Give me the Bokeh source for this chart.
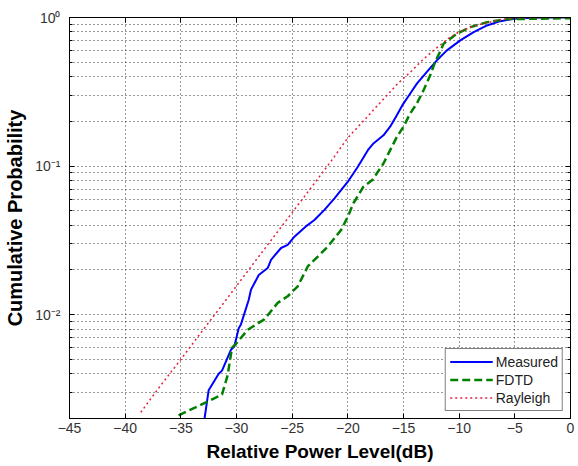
from bokeh.plotting import figure
from bokeh.models import FixedTicker, LinearAxis, LogAxis, Range1d, Legend, LegendItem
from bokeh.embed import file_html
from bokeh.resources import INLINE

# ---- data ----
measured_x = [-32.87, -32.5, -31.6, -31.3, -30.5, -30.2, -29.8, -29.6, -28.9, -28.7,
              -28.0, -27.2, -26.9, -26.0, -25.4, -24.8, -23.8, -23.0, -22.1, -21.2,
              -20.0, -19.1, -18.2, -17.7, -16.8, -16.2, -15.6, -15.1, -14.5, -13.8,
              -12.9, -12.0, -11.1, -9.9, -8.7, -7.5, -6.3, -5.1, -3.6, -2.0, 0.0]
measured_p = [0.002, 0.0031, 0.0040, 0.0042, 0.0058, 0.0061, 0.0081, 0.0086, 0.0126, 0.0147,
              0.0185, 0.0206, 0.0234, 0.0281, 0.0295, 0.0335, 0.0391, 0.0434, 0.0507, 0.0607,
              0.0785, 0.0989, 0.128, 0.142, 0.161, 0.184, 0.220, 0.257, 0.300, 0.359,
              0.430, 0.515, 0.601, 0.701, 0.796, 0.884, 0.945, 0.980, 0.995, 0.999, 1.0]

fdtd_x = [-35.2, -32.6, -31.3, -30.8, -30.4, -30.1, -29.0, -27.5, -26.3, -25.4,
          -24.5, -23.6, -22.7, -21.8, -20.6, -20.0, -19.5, -18.6, -17.8, -16.8,
          -16.2, -15.6, -15.0, -14.4, -13.8, -13.2, -12.6, -12.1, -11.8, -11.4,
          -10.2, -9.0, -7.5, -5.7, -3.6, 0.0]
fdtd_p = [0.0021, 0.0026, 0.0029, 0.0039, 0.0060, 0.0063, 0.0079, 0.0093, 0.0120, 0.0133,
          0.0155, 0.0211, 0.0246, 0.0287, 0.0372, 0.0457, 0.0562, 0.0726, 0.0805, 0.104,
          0.128, 0.157, 0.184, 0.226, 0.264, 0.324, 0.408, 0.515, 0.571, 0.666,
          0.778, 0.861, 0.929, 0.975, 0.980, 0.990]

rayleigh_x = [-38.6, -37.0, -35.0, -33.0, -31.0, -29.0, -27.0, -25.0, -23.0, -21.5,
              -20.0, -18.5, -17.0, -15.5, -14.3, -13.2, -12.3, -11.0, -10.0, -9.0,
              -8.0, -7.0, -6.0, -5.0, -4.0, -2.0, 0.0]
rayleigh_p = [0.0022, 0.0032, 0.0050, 0.0079, 0.0124, 0.0196, 0.0309, 0.0486, 0.0766, 0.108,
              0.155, 0.205, 0.272, 0.360, 0.435, 0.525, 0.600, 0.720, 0.800, 0.860,
              0.905, 0.940, 0.975, 0.990, 0.996, 0.999, 1.0]

x_ticks = [-45, -40, -35, -30, -25, -20, -15, -10, -5, 0]
y_major = [0.01, 0.1, 1.0]
y_major_labels = {0.01: "10\u207b\u00b2", 0.1: "10\u207b\u00b9", 1.0: "10\u2070"}
y_minor = [0.002, 0.003, 0.004, 0.005, 0.006, 0.007, 0.008, 0.009,
           0.02, 0.03, 0.04, 0.05, 0.06, 0.07, 0.08, 0.09,
           0.2, 0.3, 0.4, 0.5, 0.6, 0.7, 0.8, 0.9]

FONT = "Liberation Sans"

p = figure(width=576, height=464, x_range=Range1d(-45, 0), y_range=Range1d(0.002, 1),
           y_axis_type="log", output_backend="svg", toolbar_location=None,
           min_border_left=69, min_border_right=6, min_border_top=17, min_border_bottom=45)
p.background_fill_color = "white"
p.border_fill_color = "white"
p.outline_line_color = "black"
p.outline_line_width = 1

xt = FixedTicker(ticks=x_ticks)
yt = FixedTicker(ticks=y_major, minor_ticks=y_minor)

p.xaxis.ticker = xt
p.yaxis.ticker = yt
p.xgrid.ticker = xt
p.ygrid.ticker = yt

for g in (p.xgrid, p.ygrid):
    g.grid_line_color = "black"
    g.grid_line_dash = "1 3"
    g.grid_line_width = 1
    g.grid_line_alpha = 0.8
p.ygrid.minor_grid_line_color = "black"
p.ygrid.minor_grid_line_dash = "1 3"
p.ygrid.minor_grid_line_alpha = 0.8

p.yaxis.major_label_overrides = y_major_labels

for ax in (p.xaxis, p.yaxis):
    ax.axis_line_color = "black"
    ax.major_tick_in = 5
    ax.major_tick_out = 0
    ax.minor_tick_in = 3
    ax.minor_tick_out = 0
    ax.major_tick_line_color = "black"
    ax.major_label_text_font = FONT
    ax.major_label_text_font_size = "14px"
    ax.major_label_text_color = "#333333"
    ax.axis_label_text_font = FONT
    ax.axis_label_text_font_size = "19px"
    ax.axis_label_text_font_style = "bold"
    ax.axis_label_text_color = "black"
p.yaxis.axis_label_text_font_size = "20px"
p.xaxis.minor_tick_line_color = None
p.xaxis.major_label_standoff = 4
p.yaxis.major_label_standoff = 9
p.xaxis.axis_label = "Relative Power Level(dB)"
p.yaxis.axis_label = "Cumulative Probability"
p.xaxis.axis_label_standoff = 5
p.yaxis.axis_label_standoff = 6

top = LinearAxis(ticker=xt, major_label_text_font_size="1px", major_label_text_alpha=0,
                 major_label_standoff=0,
                 major_tick_in=5, major_tick_out=0, minor_tick_line_color=None,
                 axis_line_color="black")
right = LogAxis(ticker=yt, major_label_text_font_size="1px", major_label_text_alpha=0,
                major_label_standoff=0,
                major_tick_in=5, major_tick_out=0, minor_tick_in=3, minor_tick_out=0,
                axis_line_color="black")
p.add_layout(top, "above")
p.add_layout(right, "right")

r1 = p.line(measured_x, measured_p, line_color="#0000ff", line_width=2)
r2 = p.line(fdtd_x, fdtd_p, line_color="#008000", line_width=2.5, line_dash="8 4")
r3 = p.line(rayleigh_x, rayleigh_p, line_color="#e0203a", line_width=1.5, line_dash="2 3")

legend = Legend(items=[LegendItem(label="Measured", renderers=[r1]),
                       LegendItem(label="FDTD", renderers=[r2]),
                       LegendItem(label="Rayleigh", renderers=[r3])],
                location="bottom_right")
legend.label_text_font = FONT
legend.label_text_font_size = "14px"
legend.label_text_color = "#222222"
legend.border_line_color = "black"
legend.border_line_width = 1
legend.background_fill_color = "white"
legend.background_fill_alpha = 1
legend.glyph_width = 43
legend.glyph_height = 17
legend.label_height = 17
legend.label_standoff = 3
legend.spacing = 1
legend.padding = 4
legend.margin = 7
p.add_layout(legend, "center")

open("out.html", "w").write(file_html(p, INLINE))
